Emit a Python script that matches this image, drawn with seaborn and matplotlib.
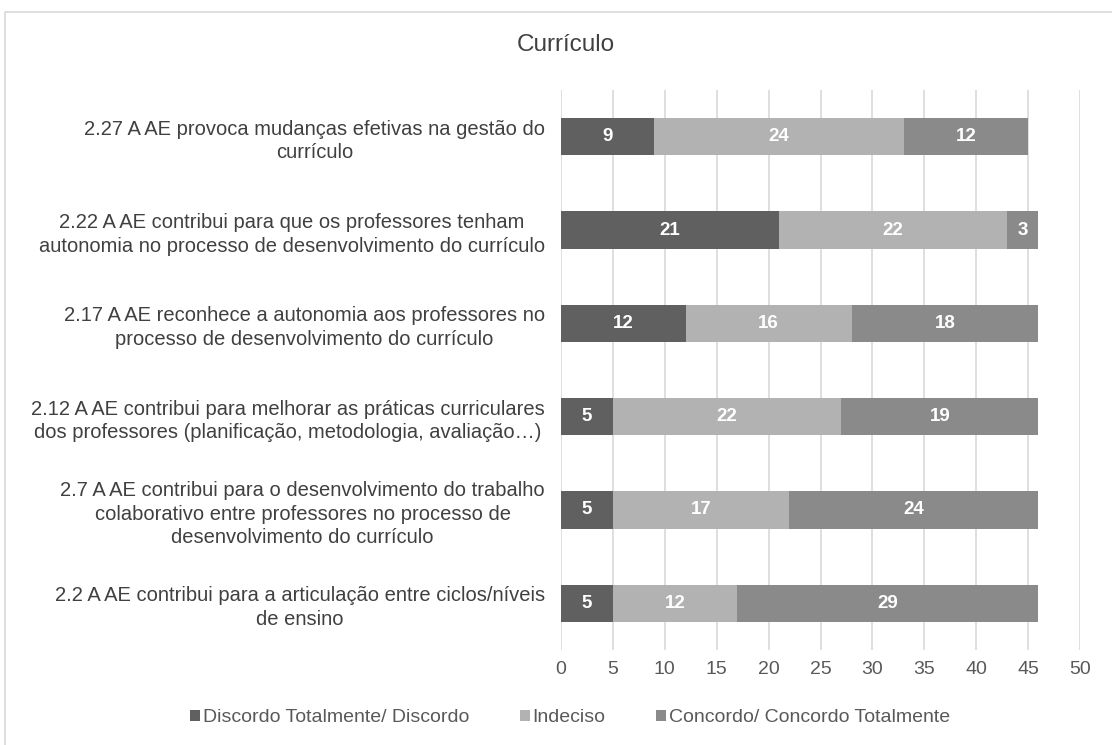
import matplotlib
matplotlib.use("Agg")
import matplotlib.pyplot as plt
import seaborn as sns
import pandas as pd
import numpy as np
from matplotlib.patches import Patch, Rectangle

categories = [
    "2.27 A AE provoca mudanças efetivas na gestão do\ncurrículo",
    "2.22 A AE contribui para que os professores tenham\nautonomia no processo de desenvolvimento do currículo",
    "2.17 A AE reconhece a autonomia aos professores no\nprocesso de desenvolvimento do currículo",
    "2.12 A AE contribui para melhorar as práticas curriculares\ndos professores (planificação, metodologia, avaliação…)",
    "2.7 A AE contribui para o desenvolvimento do trabalho\ncolaborativo entre professores no processo de\ndesenvolvimento do currículo",
    "2.2 A AE contribui para a articulação entre ciclos/níveis\nde ensino",
]
discordo = [9, 21, 12, 5, 5, 5]
indeciso = [24, 22, 16, 22, 17, 12]
concordo = [12, 3, 18, 19, 24, 29]
series_names = ["Discordo Totalmente/ Discordo", "Indeciso", "Concordo/ Concordo Totalmente"]
colors = ["#606060", "#b2b2b2", "#8a8a8a"]
xticks = [0, 5, 10, 15, 20, 25, 30, 35, 40, 45, 50]

sns.set_theme(style="white")
plt.rcParams['font.family'] = ['Liberation Sans', 'DejaVu Sans']

df = pd.DataFrame({"cat": categories, "d": discordo, "i": indeciso, "c": concordo})
df["cum1"] = df["d"]
df["cum2"] = df["d"] + df["i"]
df["cum3"] = df["d"] + df["i"] + df["c"]

fig = plt.figure(figsize=(11.12, 7.45), dpi=100)
ax = fig.add_axes([561/1112, 1-650/745, (1080-561)/1112, (650-90)/745])

for col, color in zip(["cum3", "cum2", "cum1"], [colors[2], colors[1], colors[0]]):
    sns.barplot(data=df, y="cat", x=col, order=categories, color=color, width=0.4,
                orient="h", ax=ax, saturation=1, linewidth=0, zorder=3)

# labels centered in segments
for idx, row in df.iterrows():
    lefts = [0, row["d"], row["d"] + row["i"]]
    vals = [row["d"], row["i"], row["c"]]
    for l, v in zip(lefts, vals):
        ax.text(l + v/2, idx, str(v), ha="center", va="center", color="white",
                fontsize=13.5, fontweight="bold", zorder=5)

ax.set_xlim(0, 50)
ax.set_ylim(5.5, -0.5)
ax.set_xticks(xticks)
ax.set_xticklabels([str(t) for t in xticks])
ax.xaxis.grid(True, color="#d9d9d9", linewidth=1.2, zorder=0)
ax.set_axisbelow(True)
for s in ax.spines.values():
    s.set_visible(False)
ax.set_xlabel("")
ax.set_ylabel("")
ax.tick_params(axis="x", length=0, pad=8, labelsize=14, labelcolor="#595959")
ax.tick_params(axis="y", length=0, pad=11.5, labelsize=14.5, labelcolor="#404040")
for lbl in ax.get_yticklabels():
    lbl.set_multialignment("center")
    lbl.set_linespacing(1.3)

fig.text(566/1112, 1-45/745, "Currículo", ha="center", va="center", fontsize=17.5, color="#404040")

handles = [Patch(facecolor=c, edgecolor="none") for c in colors]
fig.legend(handles, series_names, loc="center", bbox_to_anchor=(570/1112, 1-718/745), ncol=3,
           frameon=False, fontsize=14, labelcolor="#595959", handlelength=0.5, handleheight=0.5,
           handletextpad=0.15, columnspacing=2.6)

fig.patches.append(Rectangle((5/1112, -0.1), 1.2, 1-12/745+0.1, transform=fig.transFigure,
                             fill=False, edgecolor="#d9d9d9", linewidth=1.2))

fig.savefig("out.png", dpi=100)
